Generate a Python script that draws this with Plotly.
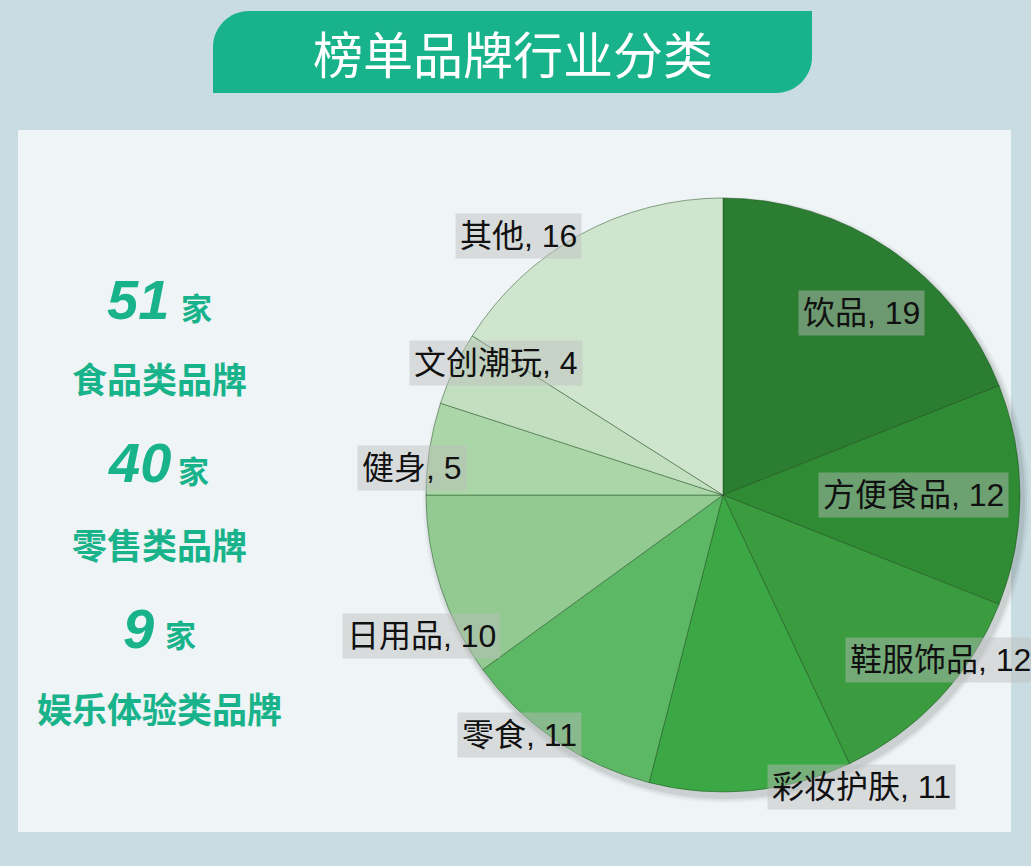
import math
import plotly.graph_objects as go

# ---------------- data ----------------
categories = ["饮品", "方便食品", "鞋服饰品", "彩妆护肤", "零食", "日用品", "健身", "文创潮玩", "其他"]
values = [19, 12, 12, 11, 11, 10, 5, 4, 16]
slice_colors = ["#2b7d31", "#2f8b34", "#3a9b3f", "#3ca845", "#5db866",
                "#92ca92", "#abd6a8", "#c2e0bf", "#d0e5ce"]

summary_counts = ["51", "40", "9"]
summary_unit = "家"
summary_labels = ["食品类品牌", "零售类品牌", "娱乐体验类品牌"]
title_text = "榜单品牌行业分类"

# label placement (angle shift in degrees, radius factor) for each slice label
label_shift = [3, 0, -6, -20, 6, -7, -4, 5, -9.5]
label_radius = [0.77, 0.64, 0.92, 1.09, 1.06, 1.12, 1.05, 0.885, 1.11]

# ---------------- layout helpers ----------------
W, H = 1031, 866


def X(px):
    return px / W


def Y(py):
    return 1 - py / H


CX, CY, R = 723, 495, 297
GREEN = "#19b38b"

fig = go.Figure()

fig.add_trace(go.Pie(
    labels=categories,
    values=values,
    sort=False,
    direction="clockwise",
    rotation=0,
    marker=dict(colors=slice_colors, line=dict(color="rgba(25,70,25,0.45)", width=1)),
    textinfo="none",
    hoverinfo="label+value",
    showlegend=False,
    domain=dict(x=[X(CX - R), X(CX + R)], y=[Y(CY + R), Y(CY - R)]),
))

shapes = []
# panel
shapes.append(dict(type="rect", xref="paper", yref="paper", layer="below",
                   x0=X(18), x1=X(1011), y0=Y(832), y1=Y(130),
                   line=dict(width=0), fillcolor="#eff4f6"))
# pie soft shadow
for grow, alpha in [(6, 0.04), (4, 0.06), (2, 0.09)]:
    ox, oy = 3, 5
    shapes.append(dict(type="circle", xref="paper", yref="paper", layer="below",
                       x0=X(CX - R - grow + ox), x1=X(CX + R + grow + ox),
                       y0=Y(CY + R + grow + oy), y1=Y(CY - R - grow + oy),
                       line=dict(width=0), fillcolor=f"rgba(40,50,40,{alpha})"))

# title banner: rounded top-left and bottom-right corners
bx0, by0, bx1, by1, rc = 213, 11, 812, 93, 36
k = 0.55
path = (
    f"M {X(bx0)},{Y(by1)} "
    f"L {X(bx0)},{Y(by0 + rc)} "
    f"C {X(bx0)},{Y(by0 + rc - k * rc)} {X(bx0 + rc - k * rc)},{Y(by0)} {X(bx0 + rc)},{Y(by0)} "
    f"L {X(bx1)},{Y(by0)} "
    f"L {X(bx1)},{Y(by1 - rc)} "
    f"C {X(bx1)},{Y(by1 - rc + k * rc)} {X(bx1 - rc + k * rc)},{Y(by1)} {X(bx1 - rc)},{Y(by1)} Z"
)
shapes.append(dict(type="path", xref="paper", yref="paper", layer="below",
                   path=path, line=dict(width=0), fillcolor=GREEN))

annotations = []
annotations.append(dict(text=title_text, x=X(513), y=Y(52), xref="paper", yref="paper",
                        showarrow=False, xanchor="center", yanchor="middle",
                        font=dict(family="Noto Sans CJK SC", size=50, color="white")))

# slice labels, positioned from slice mid-angles
total = sum(values)
cum = 0
for i, (cat, v) in enumerate(zip(categories, values)):
    mid = (cum + v / 2) / total * 360
    cum += v
    ang = math.radians(mid + label_shift[i])
    px = CX + label_radius[i] * R * math.sin(ang)
    py = CY - label_radius[i] * R * math.cos(ang)
    annotations.append(dict(
        text=f"{cat}, {v}", x=X(px), y=Y(py), xref="paper", yref="paper",
        showarrow=False, xanchor="center", yanchor="middle",
        font=dict(family="Liberation Sans, Noto Sans CJK SC", size=32, color="#111111"),
        bgcolor="rgba(188,188,188,0.45)", borderpad=4,
    ))

# left summary text
num_pos = [(138, 299, 196, 306, 378), (139, 463, 193, 469, 543), (138, 628, 180, 633, 707)]
for cnt, lab, (nx, ny, ux, uy, ly) in zip(summary_counts, summary_labels, num_pos):
    annotations.append(dict(text=f"<b><i>{cnt}</i></b>", x=X(nx), y=Y(ny), xref="paper", yref="paper",
                            showarrow=False, xanchor="center", yanchor="middle",
                            font=dict(family="Liberation Sans", size=56, color=GREEN)))
    annotations.append(dict(text=f"<b>{summary_unit}</b>", x=X(ux), y=Y(uy), xref="paper", yref="paper",
                            showarrow=False, xanchor="center", yanchor="middle",
                            font=dict(family="Noto Sans CJK SC", size=31, color=GREEN)))
    annotations.append(dict(text=f"<b>{lab}</b>", x=X(159), y=Y(ly), xref="paper", yref="paper",
                            showarrow=False, xanchor="center", yanchor="middle",
                            font=dict(family="Noto Sans CJK SC", size=35, color=GREEN)))

fig.update_layout(
    width=W, height=H,
    margin=dict(l=0, r=0, t=0, b=0),
    paper_bgcolor="#c9dce2",
    plot_bgcolor="#c9dce2",
    shapes=shapes,
    annotations=annotations,
)

fig.write_html(
    "out.html",
    config={"displayModeBar": False},
    post_script="document.body.style.margin='0';document.body.style.overflow='hidden';",
)
